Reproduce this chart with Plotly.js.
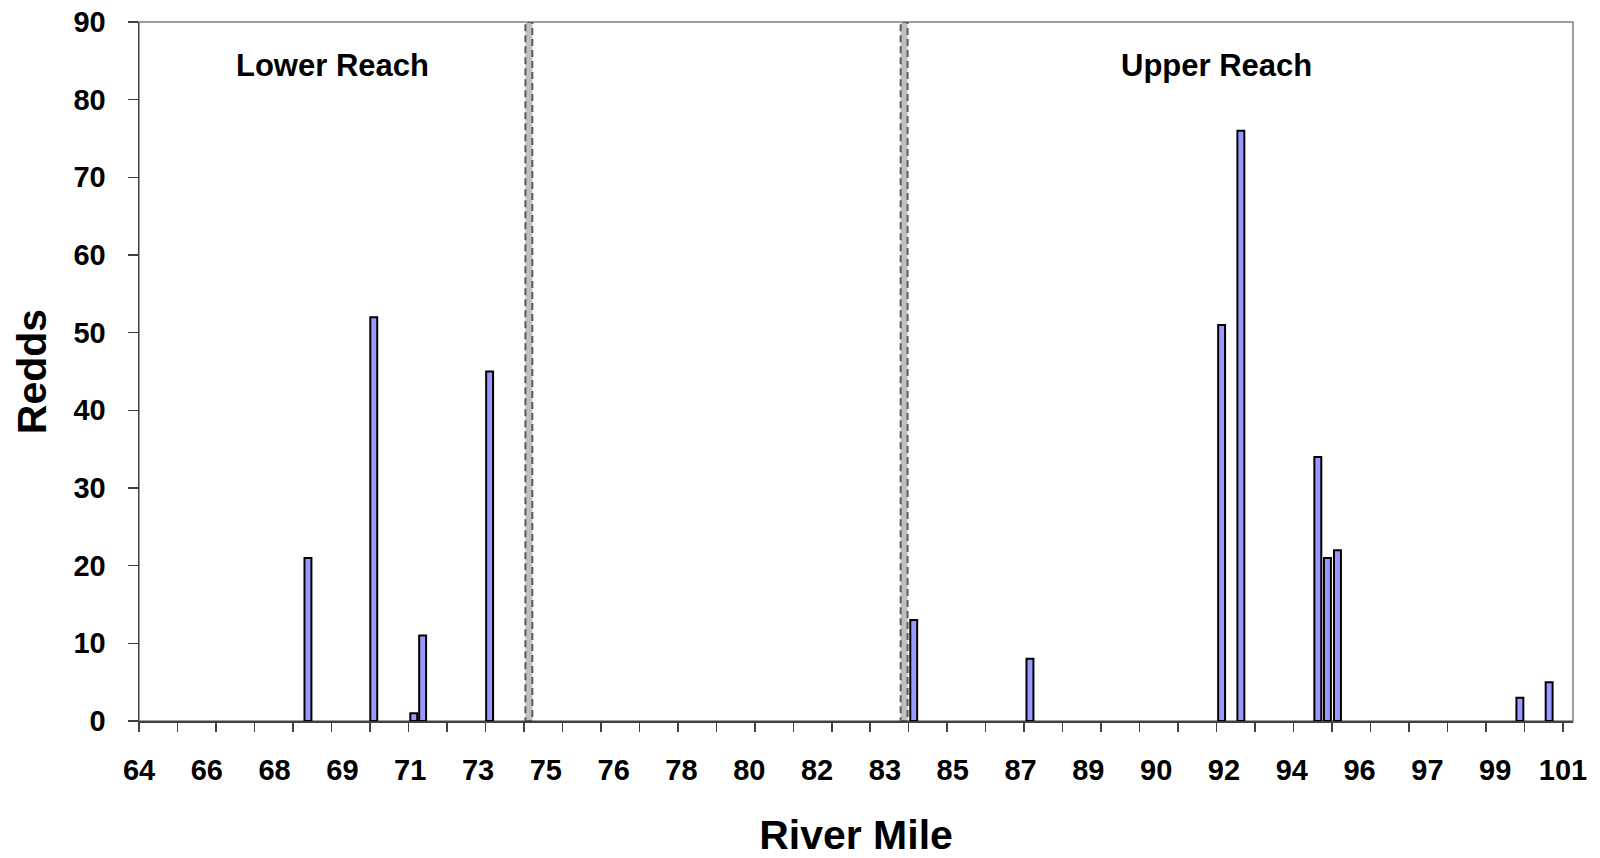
<!DOCTYPE html>
<html>
<head>
<meta charset="utf-8">
<script src="https://cdn.plot.ly/plotly-3.0.1.min.js"></script>
<style>
  html, body { margin: 0; padding: 0; background: #ffffff; }
  #chart { width: 1600px; height: 858px; }
</style>
</head>
<body>
<div id="chart"></div>
<script>
// ---- data ----
const riverMile = [68.39, 70.10, 71.14, 71.37, 73.11, 84.13, 87.15, 92.13, 92.63, 94.63, 94.88, 95.14, 99.88, 100.64];
const redds     = [21, 52, 1, 11, 45, 13, 8, 51, 76, 34, 21, 22, 3, 5];

const boundaryMiles  = [74.13, 83.88];
const boundaryHeight = 90;

const tickLabels = ['64','66','68','69','71','73','75','76','78','80','82','83','85','87','89','90','92','94','96','97','99','101'];
const mileTicks  = [64,65,66,67,68,69,70,71,72,73,74,75,76,77,78,79,80,81,82,83,84,85,86,87,88,89,90,91,92,93,94,95,96,97,98,99,100,101];

const reachNames = ['Lower Reach', 'Upper Reach'];
const reachX     = [69.04, 92.0];
const reachY     = [84.4, 84.4];

// ---- layout helpers ----
const axisStart = 64, axisEnd = 101, rangeEnd = 101.26;
const labelPositions = tickLabels.map((t, i) => axisStart + i * (axisEnd - axisStart) / (tickLabels.length - 1));
const FONT = '"Liberation Sans", Arial, sans-serif';

const traces = [
  {
    type: 'bar',
    x: riverMile,
    y: redds,
    width: 0.18,
    marker: { color: '#9999ff', line: { color: '#000000', width: 2 } },
    hoverinfo: 'x+y',
    showlegend: false
  },
  {
    type: 'scatter',
    x: [axisStart],
    y: [0],
    xaxis: 'x2',
    mode: 'markers',
    marker: { opacity: 0 },
    hoverinfo: 'skip',
    showlegend: false
  }
];

const shapes = boundaryMiles.map(m => ({
  type: 'rect', xref: 'x', yref: 'y',
  x0: m - 0.09, x1: m + 0.09, y0: 0, y1: boundaryHeight,
  fillcolor: '#c0c0c0',
  line: { color: '#5a5a5a', width: 2, dash: '7px,4px' },
  layer: 'below'
}));
shapes.push({
  type: 'rect', xref: 'paper', yref: 'paper', x0: 0, x1: 1, y0: 0, y1: 1,
  line: { color: '#808080', width: 1.5 }, layer: 'below'
});

const annotations = reachNames.map((n, i) => ({
  x: reachX[i], y: reachY[i], xref: 'x', yref: 'y',
  text: n, showarrow: false,
  font: { family: FONT, size: 31, color: '#000000', weight: 'bold' },
  xanchor: 'center', yanchor: 'middle'
}));

const layout = {
  width: 1600, height: 858,
  margin: { l: 139, r: 27, t: 22, b: 137 },
  paper_bgcolor: '#ffffff', plot_bgcolor: '#ffffff',
  font: { family: FONT, color: '#000000' },
  bargap: 0,
  xaxis: {
    range: [axisStart, rangeEnd],
    tickmode: 'array', tickvals: labelPositions, ticktext: tickLabels,
    ticks: '', showgrid: false, zeroline: false,
    showline: true, linecolor: '#404040', linewidth: 1.5,
    tickfont: { family: FONT, size: 29, color: '#000000', weight: 'bold' },
    ticklabelstandoff: 23,
    title: { text: 'River Mile', font: { family: FONT, size: 41, color: '#000000', weight: 'bold' }, standoff: 37 },
    automargin: false, fixedrange: true
  },
  xaxis2: {
    overlaying: 'x', anchor: 'y', side: 'bottom',
    range: [axisStart, rangeEnd],
    tickmode: 'array', tickvals: mileTicks,
    ticks: 'outside', ticklen: 10, tickwidth: 1.5, tickcolor: '#404040',
    showticklabels: false, showgrid: false, zeroline: false, showline: false,
    automargin: false, fixedrange: true
  },
  yaxis: {
    range: [0, 90], tickmode: 'linear', tick0: 0, dtick: 10,
    ticks: 'outside', ticklen: 10, tickwidth: 1.5, tickcolor: '#404040',
    showgrid: false, zeroline: false,
    showline: true, linecolor: '#404040', linewidth: 1.5,
    tickfont: { family: FONT, size: 29, color: '#000000', weight: 'bold' },
    ticklabelstandoff: 16,
    title: { text: 'Redds', font: { family: FONT, size: 41, color: '#000000', weight: 'bold' }, standoff: 14 },
    automargin: false, fixedrange: true
  },
  shapes: shapes,
  annotations: annotations,
  showlegend: false
};

Plotly.newPlot('chart', traces, layout, { displayModeBar: false, staticPlot: true });
</script>
</body>
</html>
